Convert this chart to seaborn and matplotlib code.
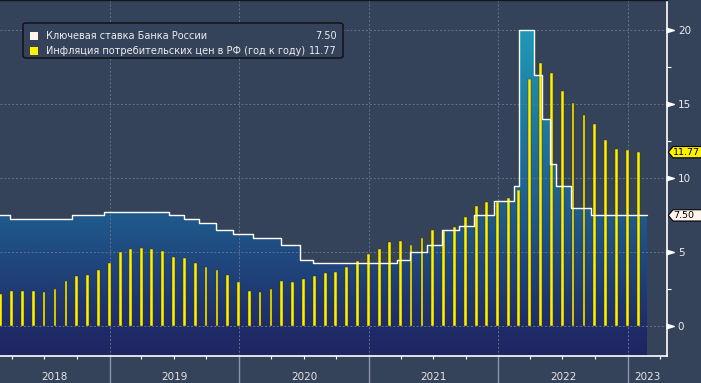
import numpy as np
import pandas as pd
import matplotlib
matplotlib.use("Agg")
import matplotlib.pyplot as plt
import matplotlib.dates as mdates
import matplotlib.transforms as mtransforms
from matplotlib.colors import LinearSegmentedColormap
from matplotlib.patches import Polygon, FancyBboxPatch, Rectangle
from matplotlib.ticker import MultipleLocator
import seaborn as sns

# Key rate of the Bank of Russia (date of change, new level, %)
rate_dates = ["2018-02-12", "2018-03-26", "2018-09-17", "2018-12-17", "2019-06-17",
              "2019-07-29", "2019-09-09", "2019-10-28", "2019-12-16", "2020-02-10",
              "2020-04-27", "2020-06-22", "2020-07-27", "2021-03-22", "2021-04-26",
              "2021-06-15", "2021-07-26", "2021-09-13", "2021-10-25", "2021-12-20",
              "2022-02-14", "2022-02-28", "2022-04-11", "2022-05-04", "2022-05-27",
              "2022-06-14", "2022-07-25", "2022-09-19"]
rate_values = [7.50, 7.25, 7.50, 7.75, 7.50,
               7.25, 7.00, 6.50, 6.25, 6.00,
               5.50, 4.50, 4.25, 4.50, 5.00,
               5.50, 6.50, 6.75, 7.50, 8.50,
               9.50, 20.00, 17.00, 14.00, 11.00,
               9.50, 8.00, 7.50]
rate_end = "2023-02-24"

# CPI inflation, y/y %, monthly Feb 2018 .. Jan 2023
cpi_values = [2.2, 2.4, 2.4, 2.4, 2.3, 2.5, 3.1, 3.4, 3.5, 3.8, 4.3,
              5.0, 5.2, 5.3, 5.2, 5.1, 4.7, 4.6, 4.3, 4.0, 3.8, 3.5, 3.0,
              2.4, 2.3, 2.5, 3.1, 3.0, 3.2, 3.4, 3.6, 3.7, 4.0, 4.4, 4.9,
              5.2, 5.7, 5.8, 5.5, 6.0, 6.5, 6.5, 6.7, 7.4, 8.1, 8.4, 8.4,
              8.7, 9.2, 16.7, 17.8, 17.1, 15.9, 15.1, 14.3, 13.7, 12.6, 12.0, 11.9,
              11.77]
cpi_months = pd.date_range("2018-02-01", periods=len(cpi_values), freq="MS") + pd.offsets.MonthEnd(0)

years = [2018, 2019, 2020, 2021, 2022, 2023]
y_ticks = [0, 5, 10, 15, 20]
legend_labels = ["Ключевая ставка Банка России",
                 "Инфляция потребительских цен в РФ (год к году)"]
last_rate = 7.50
last_cpi = 11.77

BG = "#34425A"
YELLOW = "#FFF200"
TAG_WHITE = "#FFF4F0"

sns.set_theme(style="dark")
plt.rcParams["font.family"] = ["DejaVu Sans"]

rate_df = pd.DataFrame({
    "date": pd.to_datetime(rate_dates + [rate_end]),
    "rate": rate_values + [rate_values[-1]],
})

fig = plt.figure(figsize=(7.01, 3.83), dpi=100, facecolor=BG)
ax = fig.add_axes([0, 27 / 383, 666.7 / 701, 356 / 383])
ax.set_facecolor(BG)

x0, x1 = pd.Timestamp("2018-02-26"), pd.Timestamp("2023-04-21")
ymin, ymax = -2.0, 22.05

# gradient area under the key rate (colour depends on level)
span = ymax - ymin
stops = [(0.0, "#1E2662"), ((0 - ymin) / span, "#1F2C69"), ((7.5 - ymin) / span, "#1F5A8C"),
         ((20 - ymin) / span, "#1F98B5"), (1.0, "#1F9CB8")]
cmap = LinearSegmentedColormap.from_list("kr", stops)
poly = ax.fill_between(rate_df["date"], rate_df["rate"], ymin, step="post",
                       facecolor="none", edgecolor="none")
grad = np.linspace(0, 1, 256).reshape(-1, 1)
im = ax.imshow(grad, cmap=cmap, origin="lower", aspect="auto", zorder=1,
               extent=[mdates.date2num(x0), mdates.date2num(x1), ymin, ymax])
im.set_clip_path(poly.get_paths()[0], transform=ax.transData)

# grid
for v in y_ticks:
    ax.axhline(v, color="#63728F", lw=0.7, ls=(0, (2, 2)), zorder=2)
for yr in years[1:]:
    ax.axvline(pd.Timestamp(f"{yr}-01-01"), color="#63728F", lw=0.7, ls=(0, (2, 2)), zorder=2)

# inflation bars
ax.bar(cpi_months, cpi_values, width=8, color=YELLOW, edgecolor="#3A3A14",
       linewidth=0.35, zorder=3)

# key rate step line
sns.lineplot(data=rate_df, x="date", y="rate", drawstyle="steps-post", color="white",
             lw=1.0, ax=ax, zorder=4, legend=False, estimator=None)

ax.set_xlim(x0, x1)
ax.set_ylim(ymin, ymax)
ax.set_xlabel("")
ax.set_ylabel("")

# spines
ax.spines["left"].set_visible(False)
for s in ("bottom", "right"):
    ax.spines[s].set_color("white")
    ax.spines[s].set_linewidth(1.2)
ax.spines["top"].set_color("#12151C")
ax.spines["top"].set_linewidth(1.0)

# x axis: year separators + quarterly ticks
ax.set_xticks([pd.Timestamp(f"{yr}-01-01") for yr in years[1:]])
ax.set_xticklabels([])
ax.xaxis.set_minor_locator(mdates.MonthLocator(bymonth=[4, 7, 10]))
ax.tick_params(axis="x", which="major", direction="out", length=21, width=1.0,
               color="#8C95A8", bottom=True)
ax.tick_params(axis="x", which="minor", direction="out", length=2.5, width=0.8,
               color="white", bottom=True)
blend_x = mtransforms.blended_transform_factory(ax.transData, ax.transAxes)
for yr in years:
    a = max(pd.Timestamp(f"{yr}-01-01"), x0)
    b = min(pd.Timestamp(f"{yr + 1}-01-01"), x1)
    mid = a + (b - a) / 2
    ax.text(mid, -0.059, str(yr), transform=blend_x, ha="center", va="center",
            color="#E6E6E6", fontsize=7.5)

# y axis on the right
ax.yaxis.tick_right()
ax.set_yticks(y_ticks)
ax.yaxis.set_minor_locator(MultipleLocator(2.5))
ax.tick_params(axis="y", which="major", length=0, pad=8, labelsize=7.5,
               labelcolor="#EDEDED", right=True, left=False)
ax.tick_params(axis="y", which="minor", length=3, width=0.8, color="white",
               direction="out", right=True, left=False)
tri = [(-1, -0.6), (1, 0), (-1, 0.6)]
ax.plot([1.0054] * len(y_ticks), y_ticks, marker=tri, ls="none", ms=5.5,
        color="white", transform=ax.get_yaxis_transform(), clip_on=False, zorder=5)

# value tags at right axis
blend_tag = mtransforms.blended_transform_factory(fig.transFigure, ax.transData)
h = 0.38
for val, fc in ((last_cpi, YELLOW), (last_rate, TAG_WHITE)):
    tip, body, end = 668.3 / 701, 673.0 / 701, 1.01
    tag = Polygon([(tip, val), (body, val + h), (end, val + h), (end, val - h), (body, val - h)],
                  closed=True, transform=blend_tag, facecolor=fc, edgecolor="black",
                  lw=0.8, clip_on=False, zorder=6)
    ax.add_patch(tag)
    ax.text(673.0 / 701, val, f"{val:.2f}", transform=blend_tag, ha="left", va="center",
            fontsize=6.8, color="black", zorder=7, clip_on=False)

# legend panel
fig.add_artist(FancyBboxPatch((23 / 701, 1 - 58 / 383), 320 / 701, 35 / 383,
                              boxstyle="round,pad=0,rounding_size=0.005",
                              transform=fig.transFigure, facecolor=BG,
                              edgecolor="#0C0E12", lw=1.0, zorder=10))
rows = [(36.2, TAG_WHITE, legend_labels[0], f"{last_rate:.2f}"),
        (50.6, YELLOW, legend_labels[1], f"{last_cpi:.2f}")]
for ypix, col, lab, val in rows:
    fig.add_artist(Rectangle((30 / 701, 1 - (ypix + 4) / 383), 8 / 701, 8 / 383,
                             transform=fig.transFigure, facecolor=col,
                             edgecolor="none", zorder=11))
    fig.text(45.5 / 701, 1 - ypix / 383, lab, ha="left", va="center",
             fontsize=7.0, color="#EEEEEE", zorder=11)
    fig.text(337 / 701, 1 - ypix / 383, val, ha="right", va="center",
             fontsize=7.0, color="#EEEEEE", zorder=11)

fig.savefig("out.png", dpi=100, facecolor=BG)
